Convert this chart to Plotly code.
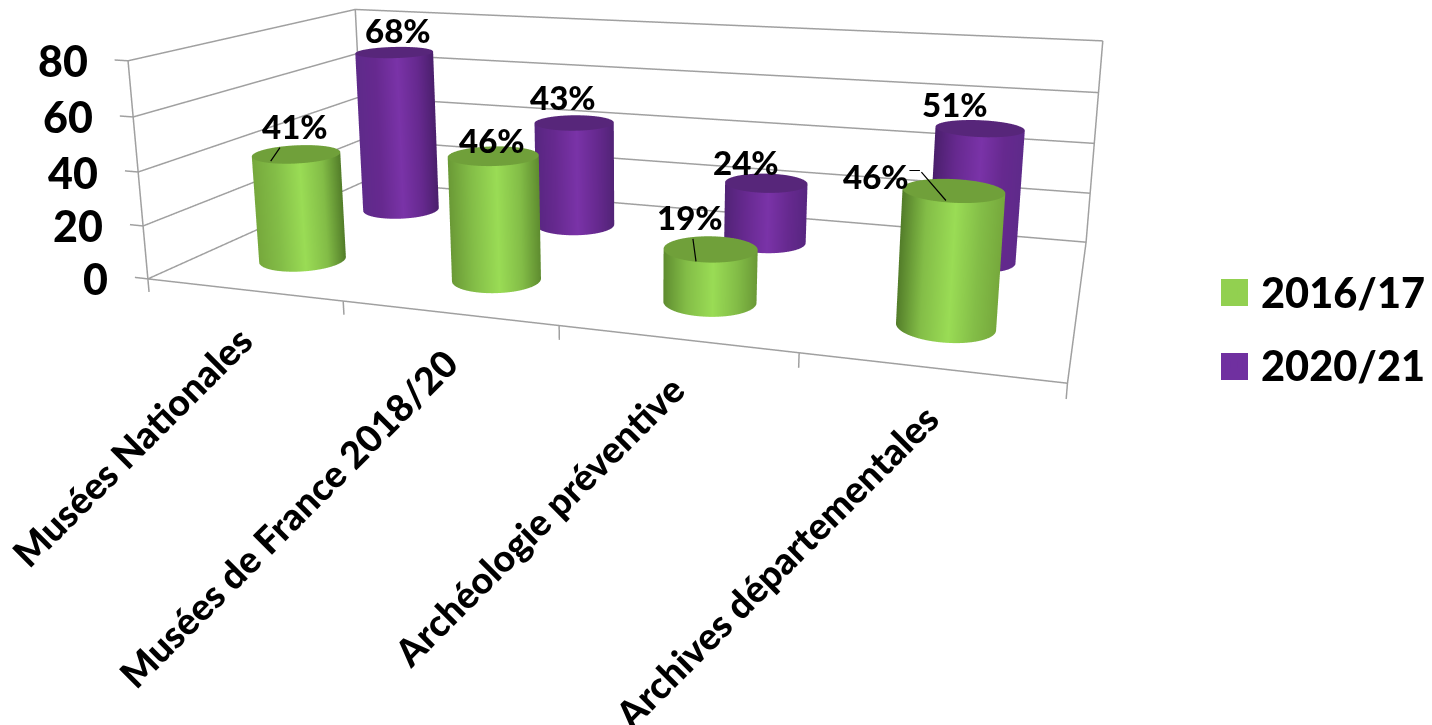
import numpy as np
import plotly.graph_objects as go

categories = ["Musées Nationales", "Musées de France 2018/20", "Archéologie préventive", "Archives départementales"]
series_names = ["2016/17", "2020/21"]
values_2016 = [41, 46, 19, 46]
values_2020 = [68, 43, 24, 51]
z_ticks = [0, 20, 40, 60, 80]

# Look of the original chart's 3D box: a projective camera for (category, depth, value)
VIEW = [178.923, 158.623, -24.836, 147.874,
        7.782, -23.349, -220.473, 278.888,
        -0.047753, 0.139118, -0.038997]
RADIUS_X, RADIUS_Y = 0.2, 0.2024
PAGE_MARGIN = 8.0   # the browser's default body margin

F = 362.5 / np.tan(np.pi / 8)
CX = 716.0
TEXT_WEIGHT = 900


def view(x, y, z):
    t = np.asarray(z, float) / 80.0
    x = np.asarray(x, float)
    y = np.asarray(y, float)
    P = VIEW
    w = P[8] * x + P[9] * y + P[10] * t + 1
    return (P[0] * x + P[1] * y + P[2] * t + P[3]) / w, (P[4] * x + P[5] * y + P[6] * t + P[7]) / w


def basis(yaw, pitch, roll):
    d = np.array([np.cos(pitch) * np.cos(yaw), np.cos(pitch) * np.sin(yaw), np.sin(pitch)])
    r = np.cross(d, [0, 0, 1.0])
    r /= np.linalg.norm(r)
    u = np.cross(r, d)
    return d, np.cos(roll) * r + np.sin(roll) * u, -np.sin(roll) * r + np.cos(roll) * u


e = np.array([1.6204, -3.7646, 1.1036])
d, r, u = basis(1.8743, -0.4964, -0.0132)
ax, ay = 4.2173, 1.6280
c = e + d * np.linalg.norm(e)

_M = np.array(VIEW + [1.0]).reshape(3, 4)
VIEWER = np.linalg.solve(_M[:, :3], -_M[:, 3])


def warp(x, y, z):
    x, y, z = np.broadcast_arrays(np.asarray(x, float), np.asarray(y, float), np.asarray(z, float))
    U, V = view(x, y, z)
    a = (U - PAGE_MARGIN - CX) / F
    b = (362.5 - (V - PAGE_MARGIN)) / F
    dvx = d[0] + a * r[0] + b * u[0]
    dvy = d[1] + a * r[1] + b * u[1]
    dvz = d[2] + a * r[2] + b * u[2]
    s = ((z - 40) / 80 - e[2]) / dvz
    return 2 + (e[0] + s * dvx) / ax * 4, 1 + (e[1] + s * dvy) / ay * 2, z * 1.0


def mix(h1, h2, t):
    a = [int(h1[k:k + 2], 16) for k in (1, 3, 5)]
    b = [int(h2[k:k + 2], 16) for k in (1, 3, 5)]
    return "#%02X%02X%02X" % tuple(round(p + (q - p) * t) for p, q in zip(a, b))


fig = go.Figure()
th = np.linspace(0, 2 * np.pi, 97)
FLAT = dict(ambient=1, diffuse=0, specular=0, roughness=1, fresnel=0)


def cyl(xc, yc, val, cs, cap):
    Xb = np.outer(xc + RADIUS_X * np.cos(th), [1, 1])
    Yb = np.outer(yc + RADIUS_Y * np.sin(th), [1, 1])
    Zb = np.outer(np.ones_like(th), [0, val])
    Xw, Yw, Zw = warp(Xb, Yb, Zb)
    cam = np.arctan2((VIEWER[1] - yc) / RADIUS_Y, (VIEWER[0] - xc) / RADIUS_X)
    S = np.outer(np.sin(th - cam), [1, 1])
    fig.add_trace(go.Surface(x=Xw, y=Yw, z=Zw, surfacecolor=S, cmin=-1, cmax=1, colorscale=cs, showscale=False,
                             hoverinfo="skip", lighting=FLAT))
    rr = np.array([0, 1.0])
    Xc, Yc, Zc = warp(xc + np.outer(RADIUS_X * np.cos(th), rr), yc + np.outer(RADIUS_Y * np.sin(th), rr),
                      val + 0 * np.outer(th, rr))
    fig.add_trace(go.Surface(x=Xc, y=Yc, z=Zc, surfacecolor=0 * Xc, colorscale=[[0, cap], [1, cap]], showscale=False,
                             hoverinfo="skip", lighting=FLAT))


def shade(i, dark_l, light_l, mid, bright):
    t = i / 3
    return [[0, mix(light_l, dark_l, t)], [.25, mid], [.53, bright], [.78, mid], [1, mix(dark_l, light_l, t)]]


for i in range(4):
    cyl(i + .5, 1.5, values_2020[i], shade(i, "#4A1F6C", "#5E2A8A", "#66298F", "#7A33A8"), "#57267A")
    cyl(i + .5, .5, values_2016[i], shade(i, "#527C29", "#76A83C", "#83BD47", "#9ADC55"), "#70A03A")

lx, ly, lz = [], [], []


def seg(pp):
    arr = np.array(pp, float)
    X, Y, Z = warp(arr[:, 0], arr[:, 1], arr[:, 2])
    lx.extend(X.tolist() + [None])
    ly.extend(Y.tolist() + [None])
    lz.extend(Z.tolist() + [None])


for v in z_ticks:
    seg([(0, 0, v), (0, 2, v), (4, 2, v)])
    seg([(0, 0, v), (-0.07, 0, v)])
seg([(0, 0, 0), (4, 0, 0), (4, 2, 0)])
for cn in [(0, 0), (0, 2), (4, 2)]:
    seg([(cn[0], cn[1], 0), (cn[0], cn[1], 80)])
for t_ in range(5):
    seg([(t_, 0, 0), (t_, 0, -5)])
fig.add_trace(go.Scatter3d(x=lx, y=ly, z=lz, mode="lines", line=dict(color="#A0A0A0", width=3), showlegend=False,
                           hoverinfo="skip"))
for nm, col in zip(series_names, ["#92D050", "#7030A0"]):
    fig.add_trace(go.Scatter3d(x=[None], y=[None], z=[None], mode="markers", name=nm, legendgroup=nm,
                               marker=dict(symbol="square", size=12, color=col, line=dict(color=col, width=5))))

lab_font = dict(family="Lato", size=33, color="black", weight=TEXT_WEIGHT)
anns = []


def P3(x, y, z):
    a, b, c_ = warp(x, y, z)
    return dict(x=float(a), y=float(b), z=float(c_))


for i, c_ in enumerate(categories):
    anns.append(dict(**P3(i + .5, 0, 0), text=c_, textangle=-45, showarrow=False, xanchor="right", yanchor="top",
                     xshift=20, yshift=-25, font=dict(family="Lato", size=37.5, color="black", weight=TEXT_WEIGHT)))
for v in z_ticks:
    anns.append(dict(**P3(0, 0, v), text=str(v), showarrow=False, xanchor="right", yanchor="middle", xshift=-38,
                     font=dict(family="Lato", size=43, color="black", weight=TEXT_WEIGHT)))
lab_shift_2016 = [(3, -27), (-1, -16), (-19, -32), (-78, -15)]
lab_shift_2020 = [(4, -22), (-11, -26), (-20, -21), (-25, -24)]
leaders = {0: (-.031, -.168, 24, -35), 2: (-.007, -.198, -6, -44)}
for i in range(4):
    sx, sy = lab_shift_2020[i]
    anns.append(dict(**P3(i + .5, 1.5, values_2020[i]), text=f"{values_2020[i]}%", showarrow=False, xanchor="center",
                     yanchor="middle", xshift=sx, yshift=-sy, font=lab_font))
    if i in leaders:
        a_, b_, ax_, ay_ = leaders[i]
        anns.append(dict(**P3(i + .5 + a_, .5 + b_, values_2016[i]), text=f"{values_2016[i]}%", showarrow=True,
                         arrowhead=0, arrowwidth=1.2, arrowcolor="black", ax=ax_, ay=ay_, font=lab_font))
    else:
        sx, sy = lab_shift_2016[i]
        anns.append(dict(**P3(i + .5, .5, values_2016[i]), text=f"{values_2016[i]}%", showarrow=False, xanchor="center",
                         yanchor="middle", xshift=sx, yshift=-sy, font=lab_font))
# elbow leader of the last green label
elbow = P3(3.5 - .009, .5 - .174, values_2016[3])
tiny = dict(size=1, color="black")
anns.append(dict(**elbow, text=" ", showarrow=True, arrowhead=0, arrowwidth=1.2, arrowcolor="black", ax=-26, ay=-30,
                 font=tiny))
anns.append(dict(**elbow, text=" ", showarrow=True, arrowhead=0, arrowwidth=1.2, arrowcolor="black", xshift=-26,
                 yshift=30, ax=-12, ay=0, font=tiny))

hid = dict(visible=False)
M = PAGE_MARGIN
fig.update_layout(
    width=1432, height=725, margin=dict(l=0, r=0, t=0, b=0), paper_bgcolor="white", showlegend=True,
    legend=dict(x=.8373, y=.5586, yanchor="middle", xanchor="left", itemwidth=44, tracegroupgap=16,
                font=dict(family="Lato", size=41.5, color="black", weight=TEXT_WEIGHT), bgcolor="rgba(0,0,0,0)"),
    shapes=[dict(type="rect", xref="paper", yref="paper", x0=(1221 - M) / 1432, x1=(1248 - M) / 1432,
                 y0=1 - (306 - M) / 725, y1=1 - (279 - M) / 725, fillcolor="#92D050", line_width=0),
            dict(type="rect", xref="paper", yref="paper", x0=(1221 - M) / 1432, x1=(1248 - M) / 1432,
                 y0=1 - (380 - M) / 725, y1=1 - (353 - M) / 725, fillcolor="#7030A0", line_width=0)],
    scene=dict(domain=dict(x=[0, 1], y=[0, 1]), aspectmode="manual", aspectratio=dict(x=ax * 2, y=ay * 2, z=1.25),
               camera=dict(eye=dict(x=e[0], y=e[1], z=e[2]), center=dict(x=c[0], y=c[1], z=c[2]),
                           up=dict(x=u[0], y=u[1], z=u[2]), projection=dict(type="perspective")),
               xaxis=dict(hid, range=[-2, 6]), yaxis=dict(hid, range=[-1, 3]), zaxis=dict(hid, range=[-10, 90]),
               annotations=anns))
fig.write_html("out.html")
